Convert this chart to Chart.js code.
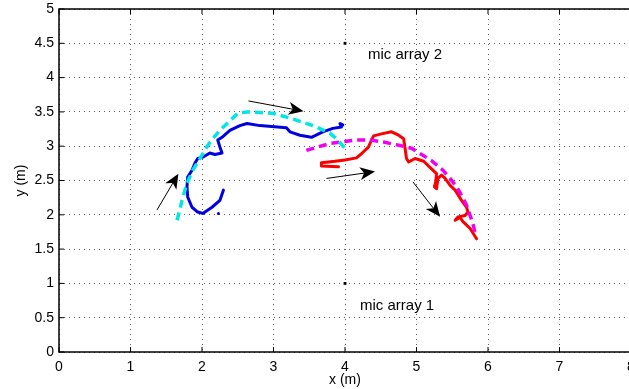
<!DOCTYPE html>
<html>
<head>
<meta charset="utf-8">
<script src="https://cdn.jsdelivr.net/npm/chart.js@4.4.1/dist/chart.umd.min.js"></script>
<style>
html,body{margin:0;padding:0;background:#fff;overflow:hidden;}
#wrap{position:relative;width:640px;height:389px;}
</style>
</head>
<body>
<div id="wrap"><canvas id="c"></canvas></div>
<script>
// ---- data (metres) ----
const xTicks = [0,1,2,3,4,5,6,7,8];
const yTicks = [0,0.5,1,1.5,2,2.5,3,3.5,4,4.5,5];

const bluePath = [[2.30,2.36],[2.25,2.21],[2.14,2.11],[2.01,2.02],[1.94,2.04],[1.86,2.11],[1.80,2.26],[1.79,2.41],
  [1.80,2.55],[1.86,2.65],[1.90,2.75],[1.94,2.82],[2.01,2.84],[2.11,2.90],[2.18,2.88],[2.28,2.90],[2.25,2.99],
  [2.22,3.09],[2.28,3.13],[2.39,3.23],[2.53,3.30],[2.63,3.33],[2.81,3.30],[3.18,3.27],[3.23,3.21],[3.37,3.16],
  [3.53,3.13],[3.69,3.21],[3.83,3.26],[3.95,3.28],[3.93,3.33],[3.97,3.31]];
const blueDot = [[2.23,2.02]];

const cyanPath = [[1.65,1.92],[1.69,2.07],[1.72,2.21],[1.79,2.46],[1.87,2.65],[2.00,2.87],[2.08,3.01],[2.15,3.11],
  [2.25,3.23],[2.39,3.37],[2.50,3.48],[2.63,3.50],[2.99,3.48],[3.23,3.41],[3.55,3.30],[3.79,3.19],[3.90,3.09],[4.00,2.97]];

const magentaPath = [[3.46,2.94],[3.79,3.04],[4.16,3.09],[4.35,3.09],[4.54,3.06],[4.77,3.01],[4.93,2.97],[5.21,2.79],
  [5.37,2.65],[5.47,2.53],[5.56,2.41],[5.63,2.28],[5.70,2.14],[5.75,1.99],[5.79,1.87],[5.82,1.73]];

const redPath = [[3.91,2.70],[3.67,2.71],[3.67,2.76],[3.86,2.78],[4.00,2.80],[4.16,2.83],[4.23,2.89],[4.33,2.99],
  [4.37,3.09],[4.40,3.15],[4.51,3.18],[4.65,3.21],[4.75,3.16],[4.82,3.11],[4.84,2.97],[4.86,2.82],[4.89,2.77],
  [4.98,2.82],[5.10,2.78],[5.21,2.67],[5.28,2.60],[5.27,2.48],[5.25,2.41],[5.28,2.38],[5.30,2.53],[5.35,2.58],
  [5.40,2.53],[5.47,2.43],[5.54,2.36],[5.63,2.21],[5.70,2.11],[5.72,2.04],[5.68,1.99],[5.58,1.97],[5.54,1.92],
  [5.61,1.96],[5.65,1.90],[5.75,1.80],[5.84,1.65]];

const micArrays = [[4,4.5],[4,1]];
const micLabels = ["mic array 2","mic array 1"];
const micLabelPos = [[4.32,4.33],[4.21,0.67]];

// arrows: [fromX, fromY, toX, toY]
const arrows = [[1.37,2.07,1.67,2.60],[2.65,3.66,3.42,3.51],[3.74,2.53,4.42,2.63],[4.95,2.48,5.33,1.97]];

const toPts = a => a.map(p => ({x:p[0], y:p[1]}));
const FONT = "'Liberation Sans', Arial, Helvetica, sans-serif";

const overlay = {
  id:'overlay',
  afterDatasetsDraw(chart){
    const {ctx, chartArea:ca, scales:{x, y}} = chart;
    ctx.save();
    // box
    ctx.strokeStyle = '#000'; ctx.lineWidth = 1.5;
    ctx.strokeRect(ca.left, ca.top, ca.right-ca.left, ca.bottom-ca.top);
    // inward ticks
    ctx.lineWidth = 1;
    xTicks.forEach(v => { const px = x.getPixelForValue(v);
      ctx.beginPath(); ctx.moveTo(px, ca.bottom); ctx.lineTo(px, ca.bottom-5); ctx.stroke();
      ctx.beginPath(); ctx.moveTo(px, ca.top); ctx.lineTo(px, ca.top+5); ctx.stroke(); });
    yTicks.forEach(v => { const py = y.getPixelForValue(v);
      ctx.beginPath(); ctx.moveTo(ca.left, py); ctx.lineTo(ca.left+5, py); ctx.stroke(); });
    // arrows
    ctx.fillStyle = '#000'; ctx.strokeStyle = '#000'; ctx.lineWidth = 1;
    arrows.forEach(a => {
      const x0 = x.getPixelForValue(a[0]), y0 = y.getPixelForValue(a[1]);
      const x1 = x.getPixelForValue(a[2]), y1 = y.getPixelForValue(a[3]);
      const ang = Math.atan2(y1-y0, x1-x0);
      const L = 15, W = 6.5, N = 4;
      const ux = Math.cos(ang), uy = Math.sin(ang), nx = -uy, ny = ux;
      ctx.beginPath(); ctx.moveTo(x0, y0); ctx.lineTo(x1 - ux*(L-N), y1 - uy*(L-N)); ctx.stroke();
      ctx.beginPath();
      ctx.moveTo(x1, y1);
      ctx.lineTo(x1 - ux*L + nx*W, y1 - uy*L + ny*W);
      ctx.lineTo(x1 - ux*(L-N), y1 - uy*(L-N));
      ctx.lineTo(x1 - ux*L - nx*W, y1 - uy*L - ny*W);
      ctx.closePath(); ctx.fill();
    });
    // labels
    ctx.font = '15px ' + FONT; ctx.fillStyle = '#000';
    ctx.textAlign = 'left'; ctx.textBaseline = 'middle';
    micLabels.forEach((t,i) => {
      ctx.fillText(t, x.getPixelForValue(micLabelPos[i][0]), y.getPixelForValue(micLabelPos[i][1]));
    });
    ctx.restore();
  }
};

const common = {showLine:true, pointRadius:0, fill:false, tension:0};
new Chart(document.getElementById('c'), {
  type:'scatter',
  data:{datasets:[
    {...common, data:toPts(cyanPath), borderColor:'rgb(0,230,230)', borderWidth:3.5, borderDash:[8,5]},
    {...common, data:toPts(magentaPath), borderColor:'rgb(240,0,240)', borderWidth:3.5, borderDash:[8,5]},
    {...common, data:toPts(bluePath), borderColor:'rgb(0,0,225)', borderWidth:3, borderJoinStyle:'round', borderCapStyle:'round'},
    {...common, data:toPts(redPath), borderColor:'rgb(250,0,0)', borderWidth:3, borderJoinStyle:'round', borderCapStyle:'round'},
    {data:toPts(blueDot), showLine:false, pointRadius:1.5, pointBackgroundColor:'rgb(0,0,225)', pointBorderWidth:0},
    {data:toPts(micArrays), showLine:false, pointStyle:'rect', pointRadius:2, pointBackgroundColor:'#000', pointBorderWidth:0}
  ]},
  options:{
    responsive:true, maintainAspectRatio:false, animation:false,
    layout:{padding:{left:13, right:9, top:9, bottom:0}},
    plugins:{legend:{display:false}, tooltip:{enabled:false}},
    scales:{
      x:{type:'linear', min:0, max:8,
        afterBuildTicks: s => { s.ticks = xTicks.map(v => ({value:v})); },
        afterFit: s => { s.height = 37; s.paddingLeft = 0; s.paddingRight = 0; },
        grid:{color:'rgba(0,0,0,0.65)', lineWidth:1, drawTicks:false},
        border:{display:false, dash:[1,4]},
        ticks:{color:'#000', font:{family:FONT, size:14}, padding:7, maxRotation:0, autoSkip:false, callback:v => String(v)},
        title:{display:true, text:'x (m)', color:'#000', font:{family:FONT, size:14}, padding:{top:0, bottom:0}}
      },
      y:{type:'linear', min:0, max:5,
        afterBuildTicks: s => { s.ticks = yTicks.map(v => ({value:v})); },
        afterFit: s => { s.width = 46; s.paddingTop = 0; s.paddingBottom = 0; },
        grid:{color:'rgba(0,0,0,0.65)', lineWidth:1, drawTicks:false},
        border:{display:false, dash:[1,4]},
        ticks:{color:'#000', font:{family:FONT, size:14}, padding:5, autoSkip:false, callback:v => String(v)},
        title:{display:true, text:'y (m)', color:'#000', font:{family:FONT, size:14}, padding:{top:0, bottom:4}}
      }
    }
  },
  plugins:[overlay]
});
</script>
</body>
</html>
